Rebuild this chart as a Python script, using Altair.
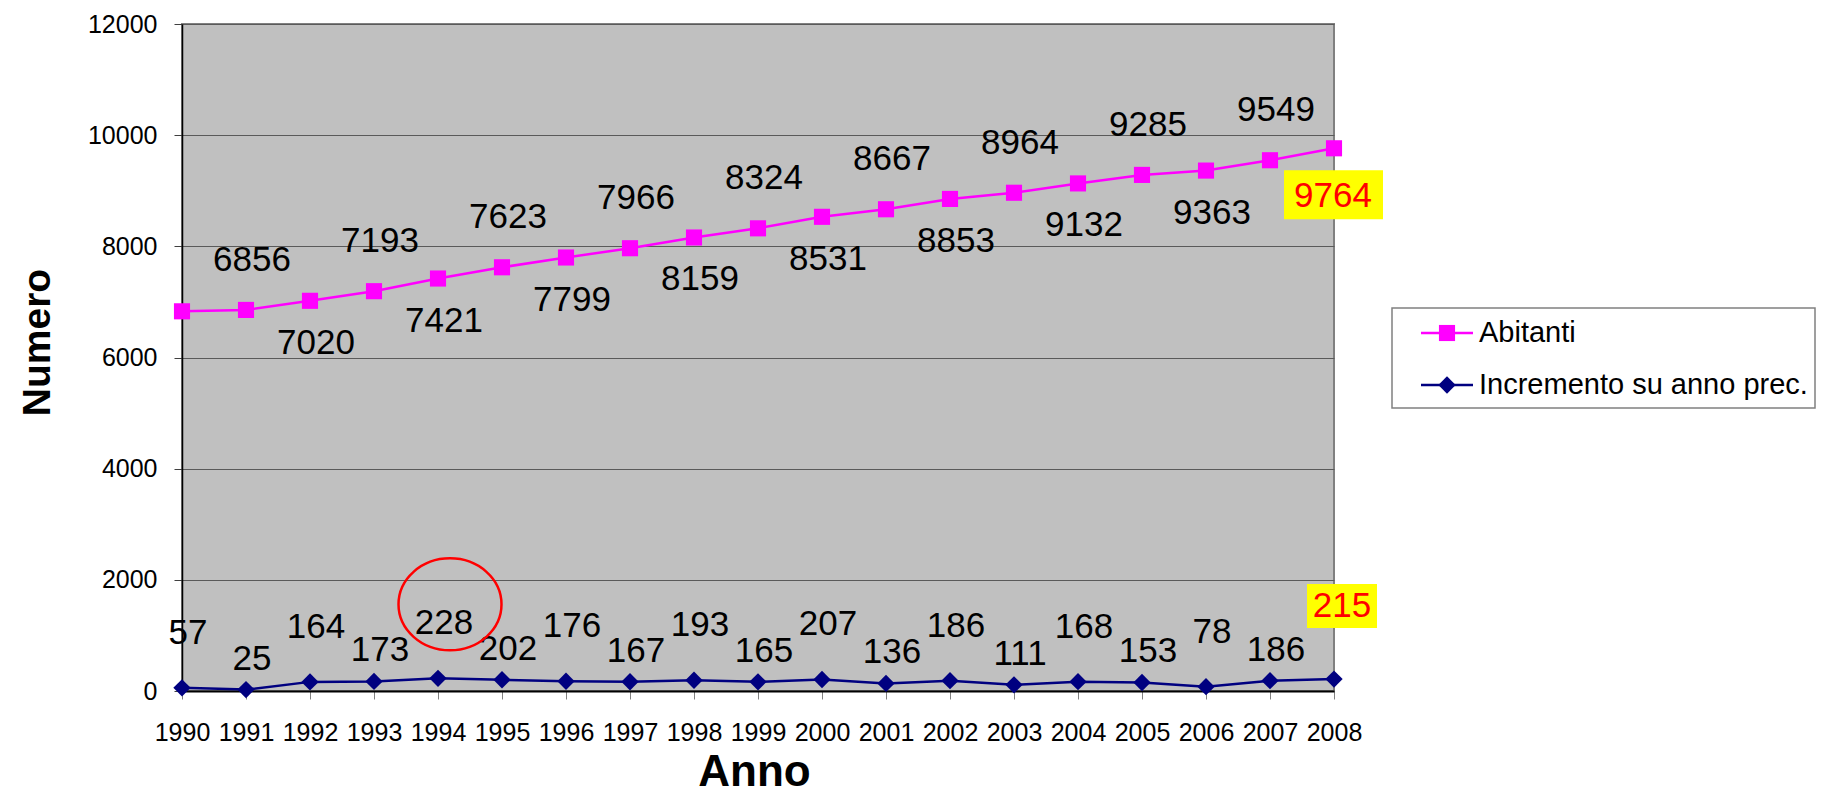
import altair as alt
import pandas as pd

# ---------------- data ----------------
years = [1990, 1991, 1992, 1993, 1994, 1995, 1996, 1997, 1998, 1999,
         2000, 2001, 2002, 2003, 2004, 2005, 2006, 2007, 2008]
abitanti = [6831, 6856, 7020, 7193, 7421, 7623, 7799, 7966, 8159, 8324,
            8531, 8667, 8853, 8964, 9132, 9285, 9363, 9549, 9764]
incremento = [57, 25, 164, 173, 228, 202, 176, 167, 193, 165,
              207, 136, 186, 111, 168, 153, 78, 186, 215]
series_names = ["Abitanti", "Incremento su anno prec."]
y_ticks = [0, 2000, 4000, 6000, 8000, 10000, 12000]

FONT = "Liberation Sans"
COLORS = ["#FF00FF", "#000080"]
SHAPES = ["square", "diamond"]
MARK_SIZES = [260, 300]

# long table for lines / markers
rows = []
for i, yr in enumerate(years):
    rows.append({"year": yr, "series": series_names[0], "value": abitanti[i]})
    rows.append({"year": yr, "series": series_names[1], "value": incremento[i]})
df = pd.DataFrame(rows)

# wide table for labels
lab = pd.DataFrame({"year": years, "abitanti": abitanti,
                    "incremento": incremento, "idx": list(range(len(years)))})
last_year = years[-1]
abit_above = lab[(lab.idx % 2 == 1) & (lab.year != last_year)]
abit_below = lab[(lab.idx % 2 == 0) & (lab.idx > 0) & (lab.year != last_year)]
inc_high = lab[(lab.idx % 2 == 0) & (lab.year != last_year)]
inc_low = lab[(lab.idx % 2 == 1) & (lab.year != last_year)]
last_row = lab[lab.year == last_year]
max_inc = lab.loc[[lab.incremento.idxmax()]]

# ---------------- encodings ----------------
x_scale = alt.Scale(domain=[years[0], years[-1]], nice=False, zero=False)
y_scale = alt.Scale(domain=[0, 12000], nice=False)


def X(field="year:Q"):
    return alt.X(field, scale=x_scale,
                 axis=alt.Axis(title="Anno", values=years, format="d"))


def X2(field="year:Q"):
    return alt.X2(field)


def Y(field):
    return alt.Y(field, scale=y_scale,
                 axis=alt.Axis(title="Numero", values=y_ticks, format="d"))


color_scale = alt.Scale(domain=series_names, range=COLORS)

line = alt.Chart(df).mark_line(strokeWidth=2.5).encode(
    x=X(), y=Y("value:Q"),
    color=alt.Color("series:N", scale=color_scale, legend=None),
)

point_layers = []
for name, col, shp, sz in zip(series_names, COLORS, SHAPES, MARK_SIZES):
    point_layers.append(
        alt.Chart(df[df.series == name]).mark_point(
            filled=True, size=sz, opacity=1, shape=shp, color=col
        ).encode(x=X(), y=Y("value:Q"))
    )


def labels(data, field, dx, dy, color="black", size=35):
    return alt.Chart(data).mark_text(
        font=FONT, fontSize=size, dx=dx, dy=dy, align="center",
        baseline="middle", color=color,
    ).encode(x=X(), y=Y(field + ":Q"), text=alt.Text(field + ":Q", format="d"))


t_abit_above = labels(abit_above, "abitanti", 6, -50)
t_abit_below = labels(abit_below, "abitanti", 6, 42)
t_inc_high = labels(inc_high, "incremento", 6, -55)
t_inc_low = labels(inc_low, "incremento", 6, -31)

box_abit = alt.Chart(last_row).mark_rect(
    color="#FFFF00", xOffset=-50, x2Offset=49, yOffset=22, y2Offset=71
).encode(x=X(), x2=X2(), y=Y("abitanti:Q"), y2=alt.Y2("abitanti:Q"))
box_inc = alt.Chart(last_row).mark_rect(
    color="#FFFF00", xOffset=-27, x2Offset=43, yOffset=-95, y2Offset=-51
).encode(x=X(), x2=X2(), y=Y("incremento:Q"), y2=alt.Y2("incremento:Q"))

t_abit_last = labels(last_row, "abitanti", -1, 48, color="#FF0000")
t_inc_last = labels(last_row, "incremento", 8, -73, color="#FF0000")

ellipse_path = "M-1,0A1,0.893,0,1,1,1,0A1,0.893,0,1,1,-1,0Z"
circle = alt.Chart(max_inc).mark_point(
    shape=ellipse_path, size=10609, filled=False, stroke="#FF0000",
    strokeWidth=2.5, opacity=1, xOffset=12, yOffset=-74,
).encode(x=X(), y=Y("incremento:Q"))

# ---------------- legend (drawn as a small layered block) ----------------
LEG_X0, LEG_X1, LEG_Y0, LEG_Y1 = 1210, 1633, 284, 384
LEG_ROW0, LEG_ROW_STEP = 309, 52
LEG_LINE_X0, LEG_LINE_X1, LEG_SYM_X, LEG_TEXT_X = 1239, 1291, 1265, 1297

legend_layers = [
    alt.Chart(pd.DataFrame({"series": series_names[:1]})).mark_rect(
        fill="white", stroke="#808080", strokeWidth=1.5
    ).encode(x=alt.value(LEG_X0), x2=alt.value(LEG_X1),
             y=alt.value(LEG_Y0), y2=alt.value(LEG_Y1))
]
for i, (name, col, shp, sz) in enumerate(zip(series_names, COLORS, SHAPES, MARK_SIZES)):
    row_df = pd.DataFrame({"series": [name]})
    yy = LEG_ROW0 + i * LEG_ROW_STEP
    legend_layers.append(
        alt.Chart(row_df).mark_rule(color=col, strokeWidth=2.5).encode(
            x=alt.value(LEG_LINE_X0), x2=alt.value(LEG_LINE_X1), y=alt.value(yy))
    )
    legend_layers.append(
        alt.Chart(row_df).mark_point(filled=True, shape=shp, size=sz, color=col,
                                     opacity=1).encode(
            x=alt.value(LEG_SYM_X), y=alt.value(yy))
    )
    legend_layers.append(
        alt.Chart(row_df).mark_text(font=FONT, fontSize=29, align="left",
                                    baseline="middle", color="black").encode(
            x=alt.value(LEG_TEXT_X), y=alt.value(yy), text="series:N")
    )

chart = alt.layer(
    line, *point_layers, t_abit_above, t_abit_below, t_inc_high, t_inc_low,
    box_abit, box_inc, t_abit_last, t_inc_last, circle, *legend_layers,
).properties(
    width=1152, height=667,
    padding={"left": 174, "top": 16, "right": 483, "bottom": 104},
    autosize=alt.AutoSizeParams(type="none"),
    background="white",
).configure_view(
    fill="#C0C0C0", stroke="#808080", strokeWidth=2,
).configure_axis(
    labelFont=FONT, titleFont=FONT, labelColor="black", titleColor="black",
    labelFontSize=25, tickSize=8, tickWidth=1,
).configure_axisX(
    grid=False, domainColor="black", domainWidth=2, tickColor="#808080",
    labelPadding=21, labelAngle=0, labelFlush=False, labelOverlap=False,
    titleFontSize=44, titleFontWeight="bold", titleX=572, titleY=94,
    titleBaseline="alphabetic", titleAlign="center",
).configure_axisY(
    grid=True, gridColor="#5a5a5a", gridWidth=1, domainColor="black",
    domainWidth=1.5, tickColor="#404040", labelPadding=17,
    titleFontSize=39, titleFontWeight="bold", titleAngle=270,
    titleX=-133, titleY=318, titleBaseline="alphabetic", titleAlign="center",
)

chart.save("out.html", embed_options={"renderer": "svg", "actions": False})
